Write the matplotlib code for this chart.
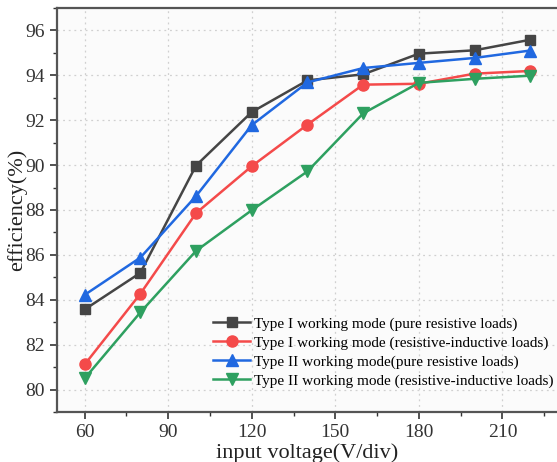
import matplotlib.pyplot as plt
from matplotlib.ticker import MultipleLocator

plt.rcParams['font.family'] = ['Liberation Serif', 'DejaVu Serif']

# input voltage (V/div)
voltage = [60, 80, 100, 120, 140, 160, 180, 200, 220]

# efficiency (%) for each working mode / load type
type1_res = [83.57, 85.2, 89.98, 92.36, 93.77, 94.04, 94.96, 95.11, 95.58]
type1_ind = [81.12, 84.27, 87.86, 89.95, 91.8, 93.58, 93.62, 94.07, 94.19]
type2_res = [84.22, 85.88, 88.62, 91.78, 93.68, 94.32, 94.55, 94.77, 95.1]
type2_ind = [80.5, 83.44, 86.18, 87.99, 89.72, 92.3, 93.66, 93.84, 93.98]

labels = [
    "Type I working mode (pure resistive loads)",
    "Type I working mode (resistive-inductive loads)",
    "Type II working mode(pure resistive loads)",
    "Type II working mode (resistive-inductive loads)",
]

fig = plt.figure(figsize=(5.57, 4.62), dpi=100)
ax = fig.add_axes([0.102, 0.108, 0.9, 0.875])
ax.set_facecolor('#fbfbfb')

ax.plot(voltage, type1_res, color='#454545', marker='s', ms=7, lw=1.8, label=labels[0])
ax.plot(voltage, type1_ind, color='#f44a4a', marker='o', ms=8, lw=1.8, label=labels[1])
ax.plot(voltage, type2_res, color='#2068e0', marker='^', ms=8, lw=1.8, label=labels[2])
ax.plot(voltage, type2_ind, color='#2ea060', marker='v', ms=8, lw=1.8, label=labels[3])

ax.set_xlim(50, 230)
ax.set_ylim(79, 97)
ax.xaxis.set_major_locator(MultipleLocator(30))
ax.xaxis.set_minor_locator(MultipleLocator(15))
ax.yaxis.set_major_locator(MultipleLocator(2))
ax.yaxis.set_minor_locator(MultipleLocator(1))
ax.tick_params(which='major', direction='out', length=5, width=1.2, labelsize=14, colors='#333333')
ax.tick_params(which='minor', direction='out', length=3, width=1.0, colors='#333333')
for sp in ax.spines.values():
    sp.set_linewidth(1.6)
    sp.set_color('#555555')

ax.grid(True, which='major', linestyle=(0, (1.5, 3)), color='#d0d0d0', lw=0.9)

ax.set_xlabel('input voltage(V/div)', fontsize=16, color='#222222', labelpad=2)
ax.set_ylabel('efficiency(%)', fontsize=16, color='#222222', labelpad=-1)

ax.legend(loc='lower right', bbox_to_anchor=(1.01, 0.038), frameon=False, fontsize=11,
          handlelength=2.4, handletextpad=0.3, labelspacing=0.33, borderaxespad=0.2)

fig.savefig('out.png', dpi=100)
